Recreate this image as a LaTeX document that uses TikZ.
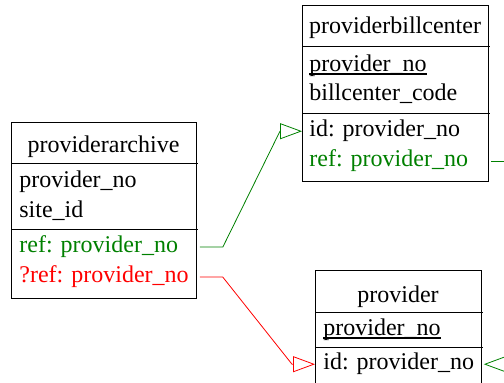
\documentclass[tikz,border=0pt]{standalone}
\usepackage{fontspec}
\setmainfont{Liberation Serif}
\usetikzlibrary{arrows.meta,positioning,calc}
\definecolor{refgreen}{RGB}{0,128,0}
\definecolor{refred}{RGB}{255,0,0}
\begin{document}
\begin{tikzpicture}[x=0.5pt,y=-0.5pt,font=\fontsize{12}{14}\selectfont,
 tbl/.style={draw,rectangle,anchor=north west,inner sep=0pt},
 row/.style={anchor=base west,inner sep=0pt},
 head/.style={anchor=base,inner sep=0pt},
 pkline/.style={line width=0.7pt},
 fk/.style={-{Triangle[open,length=11pt,width=8pt]}}]
\useasboundingbox (0,0) rectangle (504,383);
\clip (0,0) rectangle (504,383);
% providerarchive
\node[tbl,minimum width=92.5pt,minimum height=88pt] (pa) at (11,122) {};
\node[head] (pa-t) at (103.5,153) {providerarchive};
\draw (11,163) -- (198,163); \draw (11,229) -- (198,229);
\node[row] (pa-no) at (19,188) {provider\_no};
\node[row] (pa-site) at (19,218) {site\_id};
\node[row,refgreen] (pa-ref) at (19,253) {ref: provider\_no};
\node[row,refred] (pa-qref) at (19,283) {?ref: provider\_no};
% providerbillcenter
\node[tbl,minimum width=93pt,minimum height=88pt] (pbc) at (302,5) {};
\node[head] (pbc-t) at (395,34) {providerbillcenter};
\draw (302,46) -- (490,46); \draw (302,113) -- (490,113);
\node[row] (pbc-no) at (309,72) {provider\_no};
\draw[pkline] ($(pbc-no.base west)+(0,2)$) -- ($(pbc-no.base east)+(0,2)$);
\node[row] (pbc-code) at (309,101) {billcenter\_code};
\node[row] (pbc-id) at (309,137) {id: provider\_no};
\node[row,refgreen] (pbc-ref) at (309,167) {ref: provider\_no};
% provider
\node[tbl,minimum width=83pt,minimum height=75pt] (pr) at (315,270) {};
\node[head] (pr-t) at (398,303) {provider};
\draw (315,312) -- (483,312); \draw (315,347) -- (483,347);
\node[row] (pr-no) at (323,336) {provider\_no};
\draw[pkline] ($(pr-no.base west)+(0,2)$) -- ($(pr-no.base east)+(0,2)$);
\node[row] (pr-id) at (323,370) {id: provider\_no};
% references
\coordinate (off1) at (520,0);
\coordinate (off2) at (540,0);
\draw[refgreen,fk] ($(pa.east|-pa-ref)+(3,0)$) -- ++(23,0)
  -- ($(pbc.west|-pbc-id)+(-22,0)$) -- (pbc.west|-pbc-id);
\draw[refred,fk] ($(pa.east|-pa-qref)+(3,0)$) -- ++(23,0)
  -- ($(pr.west|-pr-id)+(-23,0)$) -- (pr.west|-pr-id);
\draw[refgreen] ($(pbc.east|-pbc-ref)+(2,0)$) -- (off1|-pbc-ref);
\draw[refgreen,fk] (off2|-pr-id) -- ($(pr.east|-pr-id)+(2,0)$);
\end{tikzpicture}
\end{document}
